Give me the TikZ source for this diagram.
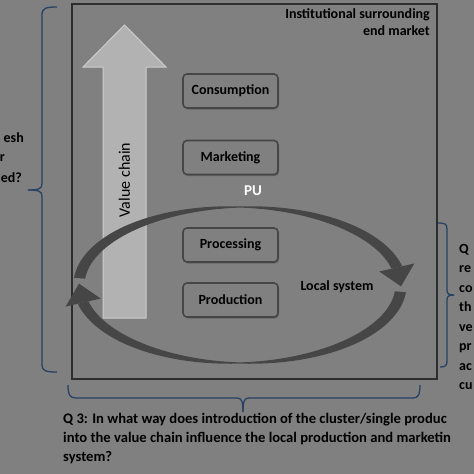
\documentclass[tikz,border=0pt]{standalone}
\usepackage{fontspec}
\setmainfont{Carlito}
\usetikzlibrary{shadows}
\definecolor{bg}{RGB}{128,128,128}
\definecolor{frame}{RGB}{45,45,45}
\definecolor{arcc}{RGB}{70,70,70}
\definecolor{vc}{RGB}{178,178,178}
\definecolor{vcb}{RGB}{205,205,205}
\definecolor{bracec}{RGB}{40,66,100}
\tikzset{
  stepbox/.style={draw=arcc, line width=1.6pt, rounded corners=4pt, fill=bg,
    minimum width=95pt, minimum height=34pt, inner sep=0pt,
    font=\fontsize{14}{16}\selectfont\bfseries,
    drop shadow={shadow xshift=1pt, shadow yshift=-1.5pt, fill=black!70, opacity=0.5}},
  lbl/.style={font=\fontsize{14}{16}\selectfont\bfseries, inner sep=0pt},
  bracepath/.style={draw=bracec, line width=1.3pt},
}
\begin{document}
\begin{tikzpicture}[x=1pt,y=-1pt]
\useasboundingbox (0,0) rectangle (474,474);
\fill[bg] (0,0) rectangle (474,474);
% main frame
\draw[frame, line width=2.6pt] (72,4) rectangle (437,379);
\node[lbl, anchor=north east, align=right, font=\fontsize{14}{17}\selectfont\bfseries] (inst) at (430,8) {Institutional surrounding\\end market};
% value chain arrow
\filldraw[fill=vc, draw=vcb, line width=1pt] (103,318) -- (103,67) -- (83,67) -- (124.5,25) -- (166,67) -- (146,67) -- (146,318) -- cycle;
\node[rotate=90, font=\fontsize{16}{18}\selectfont, inner sep=0pt] (vchain) at (124.5,180) {Value chain};
% boxes
\node[stepbox] (cons) at (230.5,91) {Consumption};
\node[stepbox] (mark) at (230.5,157.5) {Marketing};
\node[stepbox] (proc) at (230.5,245) {Processing};
\node[stepbox] (prod) at (230.5,300) {Production};
% circular arrows (local system)
\def\ecx{240}\def\ecy{285}\def\erx{161}\def\ery{78}
\fill[arcc] plot[domain=175:13, samples=80]
  ({\ecx+(\erx+0.5*(1.2+10*abs(cos(\x))))*cos(\x)}, {\ecy-(\ery+0.5*(1.2+10*abs(cos(\x))))*sin(\x)})
  -- plot[domain=13:175, samples=80]
  ({\ecx+(\erx-0.5*(1.2+10*abs(cos(\x))))*cos(\x)}, {\ecy-(\ery-0.5*(1.2+10*abs(cos(\x))))*sin(\x)})
  -- cycle;
\fill[arcc] ({\ecx+(\erx+18)*cos(13)}, {\ecy-(\ery+18)*sin(13)}) -- ({\ecx+\erx*cos(-1)}, {\ecy-\ery*sin(-1)}) -- ({\ecx+(\erx-18)*cos(13)}, {\ecy-(\ery-18)*sin(13)}) -- cycle;
\fill[arcc] plot[domain=-5:-167, samples=80]
  ({\ecx+(\erx+0.5*(1.2+10*abs(cos(\x))))*cos(\x)}, {\ecy-(\ery+0.5*(1.2+10*abs(cos(\x))))*sin(\x)})
  -- plot[domain=-167:-5, samples=80]
  ({\ecx+(\erx-0.5*(1.2+10*abs(cos(\x))))*cos(\x)}, {\ecy-(\ery-0.5*(1.2+10*abs(cos(\x))))*sin(\x)})
  -- cycle;
\fill[arcc] ({\ecx+(\erx+18)*cos(-167)}, {\ecy-(\ery+18)*sin(-167)}) -- ({\ecx+\erx*cos(-181)}, {\ecy-\ery*sin(-181)}) -- ({\ecx+(\erx-18)*cos(-167)}, {\ecy-(\ery-18)*sin(-167)}) -- cycle;
\node[lbl, text=white, font=\fontsize{15}{17}\selectfont\bfseries] (pu) at (253,191) {PU};
\node[lbl] (local) at (337,287) {Local system};
% braces
\draw[bracepath] (57,7) .. controls (46,7) and (42,8) .. (42,15) -- (42,184) .. controls (42,189) and (38,190) .. (28,190);
\draw[bracepath] (28,190) .. controls (38,190) and (42,191) .. (42,196) -- (42,365) .. controls (42,371) and (46,372) .. (57,372);
\draw[bracepath] (438,223) .. controls (445,223) and (447,224) .. (447,229) -- (447,290) .. controls (447,294) and (449,295) .. (454,295);
\draw[bracepath] (454,295) .. controls (449,295) and (447,296) .. (447,300) -- (447,361) .. controls (447,366) and (445,367) .. (440,367);
\draw[bracepath] (68,385) .. controls (68,395) and (70,398) .. (76,398) -- (237,398) .. controls (241,398) and (243,400) .. (243,412);
\draw[bracepath] (243,412) .. controls (243,400) and (245,398) .. (249,398) -- (413,398) .. controls (418,398) and (420,395) .. (420,385);
% outside texts
\node[lbl, anchor=east] (l1) at (24,138) {esh};
\node[lbl, anchor=east] (l2) at (5,158) {r};
\node[lbl, anchor=east] (l3) at (22,178) {ed?};
\node[lbl, anchor=north west, align=left, font=\fontsize{14}{19.5}\selectfont\bfseries] (q2) at (459,244) {Q\\re\\co\\th\\ve\\pr\\ac\\cu};
\node[lbl, anchor=north west, align=left, font=\fontsize{14.6}{19}\selectfont\bfseries] (q3) at (63,413) {Q 3: In what way does introduction of the cluster/single produc\\into the value chain influence the local production and marketin\\system?};
\end{tikzpicture}
\end{document}
